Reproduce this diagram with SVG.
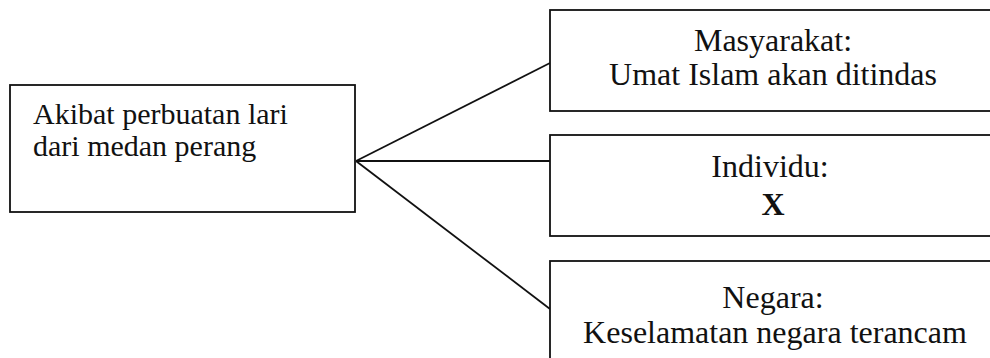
<svg xmlns="http://www.w3.org/2000/svg" width="990" height="358" viewBox="0 0 990 358">
<style>
.box{fill:#fff;stroke:#111;stroke-width:1.8}
.t{font-family:"Liberation Serif","Times New Roman",serif;font-size:32px;fill:#111}
.l{font-size:30px}
.c{text-anchor:middle}
.con{stroke:#111;stroke-width:1.8;fill:none}
</style>
<rect width="990" height="358" fill="#fff"/>
<g id="connectors">
<line class="con" x1="356" y1="161" x2="550" y2="63"/>
<line class="con" x1="356" y1="161" x2="550" y2="161"/>
<line class="con" x1="356" y1="161" x2="550" y2="309"/>
</g>
<g id="akibat">
<rect class="box" x="10" y="85" width="345" height="127"/>
<text class="t l" x="33" y="124">Akibat perbuatan lari</text>
<text class="t l" x="33" y="156">dari medan perang</text>
</g>
<g id="masyarakat">
<rect class="box" x="550" y="10" width="460" height="101"/>
<text class="t c" x="773" y="51">Masyarakat:</text>
<text class="t c" x="773" y="85">Umat Islam akan ditindas</text>
</g>
<g id="individu">
<rect class="box" x="550" y="135" width="460" height="101"/>
<text class="t c" x="770" y="177">Individu:</text>
<text class="t c" x="773" y="215" font-weight="bold">X</text>
</g>
<g id="negara">
<rect class="box" x="550" y="261" width="460" height="120"/>
<text class="t c" x="773" y="308">Negara:</text>
<text class="t c" x="775" y="343">Keselamatan negara terancam</text>
</g>
</svg>
